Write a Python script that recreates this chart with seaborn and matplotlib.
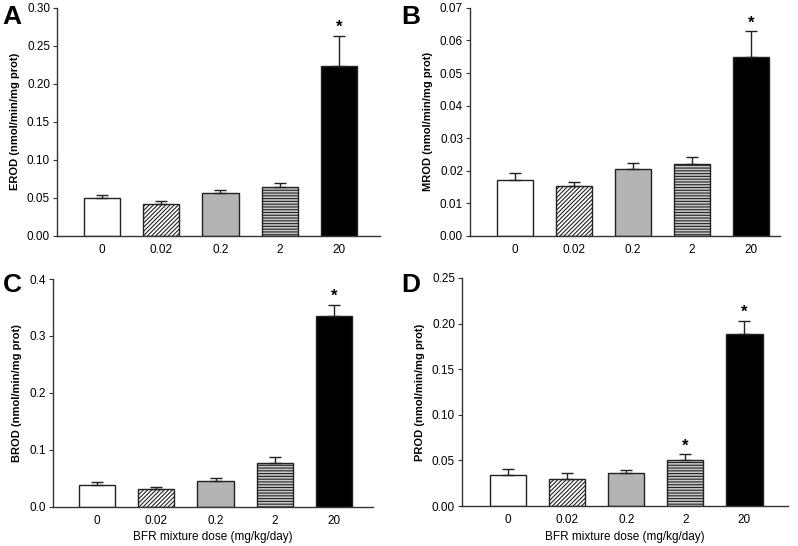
import numpy as np
import pandas as pd
import seaborn as sns
import matplotlib.pyplot as plt

# dose groups (mg/kg/day)
doses = ['0', '0.02', '0.2', '2', '20']

erod = [0.0504, 0.0420, 0.0560, 0.0645, 0.2232]
erod_err = [0.0036, 0.0045, 0.0050, 0.0048, 0.0404]
erod_sig = [False, False, False, False, True]

mrod = [0.0172, 0.0154, 0.0206, 0.0222, 0.0548]
mrod_err = [0.0022, 0.0010, 0.0019, 0.0020, 0.0081]
mrod_sig = [False, False, False, False, True]

brod = [0.0380, 0.0305, 0.0451, 0.0773, 0.3356]
brod_err = [0.0053, 0.0046, 0.0047, 0.0105, 0.0193]
brod_sig = [False, False, False, False, True]

prod = [0.0336, 0.0296, 0.0358, 0.0504, 0.1887]
prod_err = [0.0069, 0.0062, 0.0036, 0.0062, 0.0142]
prod_sig = [False, False, False, True, True]

sns.set_style('ticks')
plt.rcParams['font.family'] = ['Liberation Sans', 'DejaVu Sans']
plt.rcParams['hatch.linewidth'] = 0.8
plt.rcParams['hatch.color'] = '#222222'
plt.rcParams['text.color'] = 'black'
plt.rcParams['axes.labelcolor'] = 'black'
plt.rcParams['xtick.color'] = 'black'
plt.rcParams['ytick.color'] = 'black'

fills = ['white', 'white', '#b4b4b4', '#c8c8c8', 'black']
hatches = [None, '////////', None, '------', None]


def drawPanel(ax, vals, errs, sig, ylabel, ymax, ystep, fmt, xlim, xlabel=None):
    df = pd.DataFrame({'dose': doses, 'val': vals})
    sns.barplot(data=df, x='dose', y='val', hue='dose', palette=fills, legend=False,
                width=0.61, edgecolor='#222222', linewidth=1.0, ax=ax)
    for patch, h in zip(ax.patches, hatches):
        if h:
            patch.set_hatch(h)
    pos = np.arange(len(doses))
    ax.errorbar(pos, vals, yerr=[np.zeros(len(vals)), errs], fmt='none',
                ecolor='#222222', elinewidth=1.0, capsize=4, capthick=1.0, zorder=1)
    for p, v, e, s in zip(pos, vals, errs, sig):
        if s:
            ax.text(p, v + e + ymax * 0.003, '*', ha='center', va='bottom',
                    fontsize=12, fontweight='bold')
    ax.set_ylim(0, ymax)
    ax.set_xlim(*xlim)
    ticks = np.arange(0, ymax + ystep / 2, ystep)
    ax.set_yticks(ticks)
    ax.set_yticklabels([fmt.format(t) for t in ticks], fontsize=8.5)
    ax.tick_params(axis='x', length=0, labelsize=8.5, pad=6)
    ax.tick_params(axis='y', length=3, width=0.8, color='#333333', pad=2)
    ax.set_ylabel(ylabel, fontsize=8, fontweight='bold', labelpad=5)
    if xlabel:
        ax.set_xlabel(xlabel, fontsize=8.5, labelpad=3)
    else:
        ax.set_xlabel('')
    for sp in ['top', 'right']:
        ax.spines[sp].set_visible(False)
    for sp in ['left', 'bottom']:
        ax.spines[sp].set_color('#333333')
        ax.spines[sp].set_linewidth(1.0)


fig = plt.figure(figsize=(7.98, 5.46), dpi=100)

axA = fig.add_axes([0.0714, 0.568, 0.4046, 0.4176])
axB = fig.add_axes([0.589, 0.568, 0.388, 0.4176])
axC = fig.add_axes([0.066, 0.072, 0.4015, 0.417])
axD = fig.add_axes([0.579, 0.073, 0.408, 0.418])

xlabel = 'BFR mixture dose (mg/kg/day)'
drawPanel(axA, erod, erod_err, erod_sig, 'EROD (nmol/min/mg prot)', 0.30, 0.05, '{:.2f}', (-0.76, 4.69))
drawPanel(axB, mrod, mrod_err, mrod_sig, 'MROD (nmol/min/mg prot)', 0.07, 0.01, '{:.2f}', (-0.76, 4.49))
drawPanel(axC, brod, brod_err, brod_sig, 'BROD (nmol/min/mg prot)', 0.4, 0.1, '{:.1f}', (-0.75, 4.66), xlabel)
drawPanel(axD, prod, prod_err, prod_sig, 'PROD (nmol/min/mg prot)', 0.25, 0.05, '{:.2f}', (-0.78, 4.73), xlabel)

fig.text(0.003, 0.99, 'A', fontsize=19, fontweight='bold', va='top')
fig.text(0.503, 0.99, 'B', fontsize=19, fontweight='bold', va='top')
fig.text(0.003, 0.500, 'C', fontsize=19, fontweight='bold', va='top')
fig.text(0.503, 0.500, 'D', fontsize=19, fontweight='bold', va='top')

fig.savefig('out.png', dpi=100)
